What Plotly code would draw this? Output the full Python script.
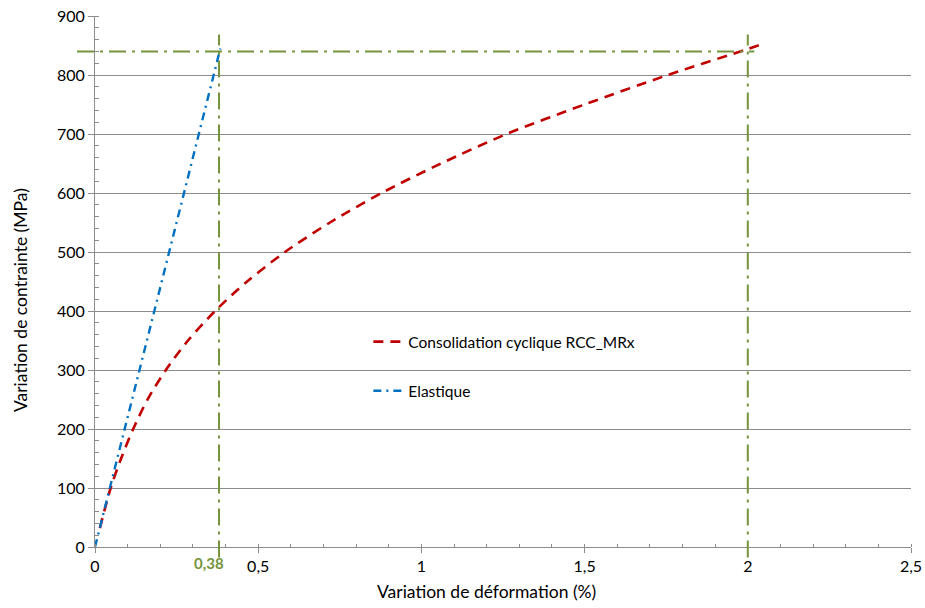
import plotly.graph_objects as go

# Data
strain_rcc = [0.015, 0.048, 0.080, 0.117, 0.161, 0.217, 0.285, 0.368, 0.466, 0.582,
              0.720, 0.878, 1.060, 1.261, 1.500, 1.755, 2.000, 2.048]
stress_rcc = [32, 100, 150, 200, 250, 300, 350, 400, 450, 500,
              550, 600, 650, 700, 750, 800, 844, 853]

strain_el = [0.0, 0.384]
stress_el = [0.0, 845]

ref_strain_low = 0.38
ref_strain_high = 2.0
ref_stress = 840

x_tickvals = [0, 0.5, 1, 1.5, 2, 2.5]
y_tickvals = [0, 100, 200, 300, 400, 500, 600, 700, 800, 900]

x_title = "Variation de déformation (%)"
y_title = "Variation de contrainte (MPa)"

FONT = "Lato"
GREEN = "#77933C"
GRID = "#8c8c8c"

fig = go.Figure()

fig.add_trace(go.Scatter(
    x=strain_rcc, y=stress_rcc, mode="lines",
    name="Consolidation cyclique RCC_MRx",
    line=dict(color="#C00000", width=2.6, dash="10px,7px", shape="spline", smoothing=0.8),
    legendgroup="a",
))
fig.add_trace(go.Scatter(
    x=strain_el, y=stress_el, mode="lines",
    name="Elastique",
    line=dict(color="#0070C0", width=2.4, dash="8px,5px,2px,5px"),
    legendgroup="b",
))

dash_green = "17px,6px,3px,6px"
# vertical reference lines (extend a bit beyond the plot area)
for xv in (ref_strain_low, ref_strain_high):
    fig.add_shape(type="line", xref="x", yref="paper",
                  x0=xv, x1=xv, y0=-0.02, y1=0.965,
                  line=dict(color=GREEN, width=2, dash=dash_green), layer="above")
# horizontal reference line
fig.add_shape(type="line", xref="paper", yref="y",
              x0=-0.022, x1=0.808, y0=ref_stress, y1=ref_stress,
              line=dict(color=GREEN, width=2, dash=dash_green), layer="above")

fig.add_annotation(x=ref_strain_low, xref="x", y=0, yref="paper",
                   text="<b>0,38</b>", showarrow=False, yshift=-27, xshift=-10,
                   font=dict(family=FONT, size=15, color=GREEN))

# axis titles
fig.add_annotation(x=0.48, xref="paper", y=-0.083, yref="paper",
                   text=x_title, showarrow=False, xanchor="center", yanchor="middle",
                   font=dict(family=FONT, size=17.5, color="#000000"))
fig.add_annotation(x=-0.092, xref="paper", y=0.465, yref="paper",
                   text=y_title, showarrow=False, textangle=-90,
                   xanchor="center", yanchor="middle",
                   font=dict(family=FONT, size=17.5, color="#000000"))

fig.update_layout(
    width=925, height=608,
    margin=dict(l=95, r=14, t=16, b=61),
    paper_bgcolor="white", plot_bgcolor="white",
    separators=", ",
    font=dict(family=FONT, size=16, color="#000000"),
    showlegend=True,
    legend=dict(x=0.335, y=0.418, xanchor="left", yanchor="top",
                bgcolor="rgba(0,0,0,0)", tracegroupgap=26,
                traceorder="grouped", font=dict(family=FONT, size=15.5)),
    xaxis=dict(
        range=[0, 2.5], tickvals=x_tickvals, showgrid=False, zeroline=False,
        showline=True, linecolor=GRID, linewidth=1, automargin=False,
        ticks="outside", ticklen=5, tickcolor=GRID,
        minor=dict(dtick=0.1, ticks="inside", ticklen=3, tickcolor=GRID, showgrid=False),
        tickfont=dict(family=FONT, size=16),
    ),
    yaxis=dict(
        range=[0, 900], tickvals=y_tickvals, showgrid=True, gridcolor=GRID, gridwidth=1,
        zeroline=False, showline=True, linecolor=GRID, linewidth=1, automargin=False,
        ticks="outside", ticklen=6, tickcolor=GRID,
        minor=dict(dtick=20, ticks="inside", ticklen=4, tickcolor=GRID, showgrid=False),
        tickfont=dict(family=FONT, size=16),
    ),
)

fig.write_html("out.html", config={"displayModeBar": False},
               post_script="document.body.style.margin='0px';")
